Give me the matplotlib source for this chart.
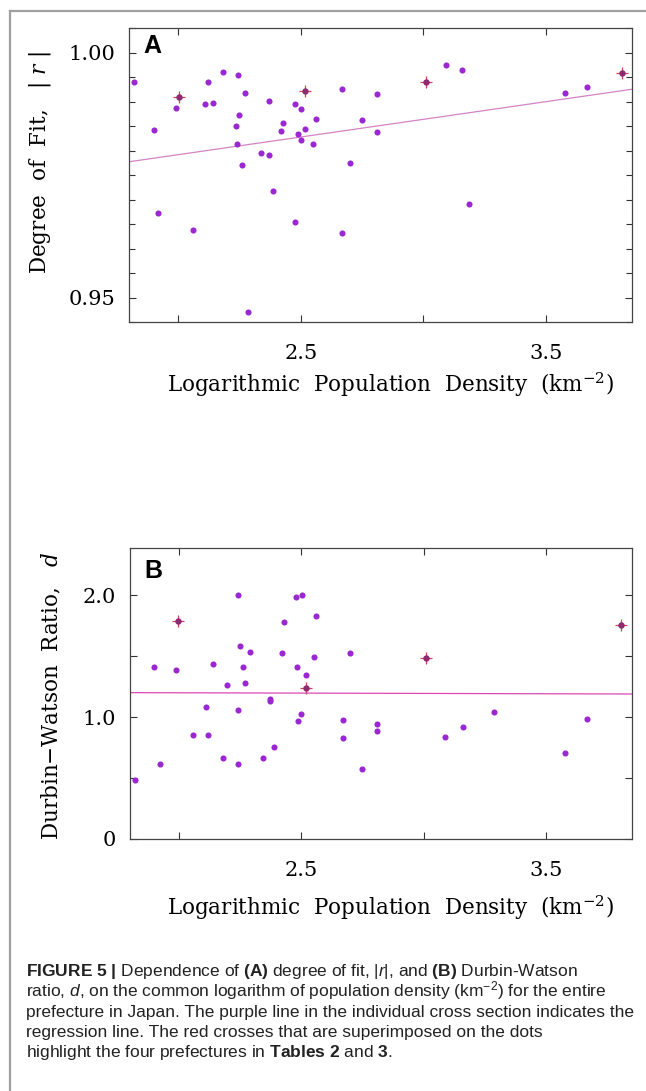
import numpy as np
import matplotlib
matplotlib.use('Agg')
import matplotlib.pyplot as plt
from matplotlib.lines import Line2D

# ---- data ----
# panel A: degree of fit |r| vs log10 population density
dens_a = [1.819, 1.901, 1.918, 1.992, 2.059, 2.111, 2.121, 2.141, 2.183, 2.243,
          2.238, 2.240, 2.250, 2.260, 2.271, 2.286, 2.337, 2.370, 2.370, 2.387,
          2.419, 2.429, 2.477, 2.477, 2.487, 2.499, 2.499, 2.518, 2.549, 2.561,
          2.668, 2.668, 2.700, 2.750, 2.809, 2.809, 3.090, 3.159, 3.184, 3.578,
          3.668]
fit_a = [0.99395, 0.98422, 0.96721, 0.98864, 0.96381, 0.98946, 0.99388, 0.98966, 0.99592, 0.99544,
         0.98510, 0.98136, 0.98728, 0.97707, 0.99177, 0.94707, 0.97939, 0.99014, 0.97912, 0.97170,
         0.98408, 0.98558, 0.98946, 0.96531, 0.98340, 0.98850, 0.98211, 0.98435, 0.98129, 0.98653,
         0.99252, 0.96313, 0.97735, 0.98626, 0.99163, 0.98374, 0.99748, 0.99633, 0.96918, 0.99177,
         0.99306]
# four prefectures of Tables 2 and 3
hl_dens_a = [2.002, 2.519, 3.010, 3.809]
hl_fit_a = [0.99082, 0.99211, 0.99401, 0.99578]
reg_x_a = [1.80, 3.85]
reg_y_a = [0.9777, 0.9925]

# panel B: Durbin-Watson ratio d
dens_b = [1.821, 1.898, 1.921, 1.987, 2.059, 2.109, 2.119, 2.139, 2.179, 2.198,
          2.240, 2.240, 2.240, 2.250, 2.261, 2.270, 2.291, 2.342, 2.370, 2.370,
          2.389, 2.419, 2.429, 2.477, 2.481, 2.487, 2.499, 2.503, 2.519, 2.551,
          2.561, 2.670, 2.668, 2.700, 2.749, 2.807, 2.807, 3.085, 3.161, 3.288,
          3.575, 3.665]
dw_b = [0.481, 1.413, 0.620, 1.385, 0.852, 1.085, 0.852, 1.440, 0.667, 1.262,
        2.000, 1.057, 0.615, 1.582, 1.413, 1.281, 1.536, 0.667, 1.153, 1.134,
        0.757, 1.527, 1.781, 1.986, 1.413, 0.970, 1.030, 2.003, 1.347, 1.497,
        1.828, 0.981, 0.828, 1.527, 0.577, 0.945, 0.883, 0.836, 0.921, 1.046,
        0.708, 0.986]
hl_dens_b = [1.998, 2.519, 3.008, 3.806]
hl_dw_b = [1.792, 1.238, 1.489, 1.757]
reg_x_b = [1.80, 3.85]
reg_y_b = [1.202, 1.191]

xticks = [2.0, 2.5, 3.0, 3.5]
xticklabels = ['', '2.5', '', '3.5']

caption = [
    r'$\mathbf{FIGURE\ 5\ |}$ Dependence of $\mathbf{(A)}$ degree of fit, |$\mathit{r}$|, and $\mathbf{(B)}$ Durbin-Watson',
    r'ratio, $\mathit{d}$, on the common logarithm of population density (km$^{-2}$) for the entire',
    'prefecture in Japan. The purple line in the individual cross section indicates the',
    'regression line. The red crosses that are superimposed on the dots',
    r'highlight the four prefectures in $\mathbf{Tables\ 2}$ and $\mathbf{3}$.',
]

plt.rcParams['mathtext.fontset'] = 'custom'
plt.rcParams['mathtext.rm'] = 'Liberation Sans'
plt.rcParams['mathtext.it'] = 'Liberation Sans:italic'
plt.rcParams['mathtext.bf'] = 'Liberation Sans:bold'

DOT = '#9b27d3'
HL_DOT = '#8e2a72'
CROSS = '#d4464e'
SERIF = 'DejaVu Serif'
LABEL_SIZE = 15.5

fig = plt.figure(figsize=(6.46, 10.91), dpi=100)
ax_a = fig.add_axes([129/646, 1 - 322/1091, 503/646, 294/1091])
ax_b = fig.add_axes([130/646, 1 - 839/1091, 502/646, 291/1091])


def style_axes(ax):
    for sp in ax.spines.values():
        sp.set_color('#444444')
        sp.set_linewidth(0.9)
    ax.set_xlim(1.80, 3.85)
    ax.set_xticks(xticks)
    ax.set_xticklabels(xticklabels)
    ax.tick_params(which='both', direction='in', top=True, right=True,
                   color='#333333', width=0.8)
    ax.tick_params(which='major', length=5)
    ax.tick_params(which='minor', length=4)
    ax.tick_params(axis='x', pad=16)
    ax.tick_params(axis='y', pad=10)
    for lab in ax.get_xticklabels() + ax.get_yticklabels():
        lab.set_fontfamily(SERIF)
        lab.set_fontsize(15)


def draw_panel(ax, x, y, hx, hy, rx, ry, line_color):
    ax.plot(rx, ry, color=line_color, lw=0.9, zorder=2)
    ax.plot(x, y, 'o', color=DOT, ms=4.4, mec='none', zorder=3)
    ax.plot(hx, hy, '+', color=CROSS, ms=9, mew=0.9, zorder=3)
    ax.plot(hx, hy, 'o', color=HL_DOT, ms=4.6, mec='none', zorder=4)


# ---- panel A ----
draw_panel(ax_a, dens_a, fit_a, hl_dens_a, hl_fit_a, reg_x_a, reg_y_a, '#d483c4')
ax_a.set_ylim(0.945, 1.005)
ax_a.set_yticks([0.95, 1.00])
ax_a.set_yticklabels(['0.95', '1.00'])
ax_a.set_yticks(np.arange(0.945, 1.0051, 0.005), minor=True)
style_axes(ax_a)
ax_a.set_xlabel(r'Logarithmic  Population  Density  (km$^{-2}$)', fontsize=LABEL_SIZE,
                family=SERIF, math_fontfamily='dejavuserif', va='center')
ax_a.xaxis.set_label_coords(0.519, -0.214)
ax_a.set_ylabel(r'Degree  of  Fit,   | $r$ |', fontsize=LABEL_SIZE, family=SERIF,
                math_fontfamily='dejavuserif', va='center')
ax_a.yaxis.set_label_coords(-0.176, 0.544)
ax_a.text(0.028, 0.978, 'A', transform=ax_a.transAxes, fontsize=18,
          fontweight='bold', family='Liberation Sans', va='top', ha='left')

# ---- panel B ----
draw_panel(ax_b, dens_b, dw_b, hl_dens_b, hl_dw_b, reg_x_b, reg_y_b, '#de47b4')
ax_b.set_ylim(0, 2.39)
ax_b.set_yticks([0, 0.5, 1.0, 1.5, 2.0])
ax_b.set_yticklabels(['0', '', '1.0', '', '2.0'])
style_axes(ax_b)
ax_b.set_xlabel(r'Logarithmic  Population  Density  (km$^{-2}$)', fontsize=LABEL_SIZE,
                family=SERIF, math_fontfamily='dejavuserif', va='center')
ax_b.xaxis.set_label_coords(0.518, -0.237)
ax_b.set_ylabel(r'Durbin$-$Watson  Ratio,   $d$', fontsize=LABEL_SIZE, family=SERIF,
                math_fontfamily='dejavuserif', va='center')
ax_b.yaxis.set_label_coords(-0.155, 0.491)
ax_b.text(0.028, 0.962, 'B', transform=ax_b.transAxes, fontsize=18,
          fontweight='bold', family='Liberation Sans', va='top', ha='left')

# ---- page border (left and top rule) ----
fig.add_artist(Line2D([10/646, 10/646], [0, 1 - 11/1091], transform=fig.transFigure,
                      color='#a0a0a0', lw=1.6))
fig.add_artist(Line2D([10/646, 1], [1 - 11/1091, 1 - 11/1091], transform=fig.transFigure,
                      color='#a0a0a0', lw=1.6))

# ---- caption ----
for i, line in enumerate(caption):
    fig.text(26/646, 1 - (976 + i * 20.3) / 1091, line, fontsize=12.5,
             family='Liberation Sans', va='baseline', ha='left', color='#222222')

fig.savefig('out.png', dpi=100)
